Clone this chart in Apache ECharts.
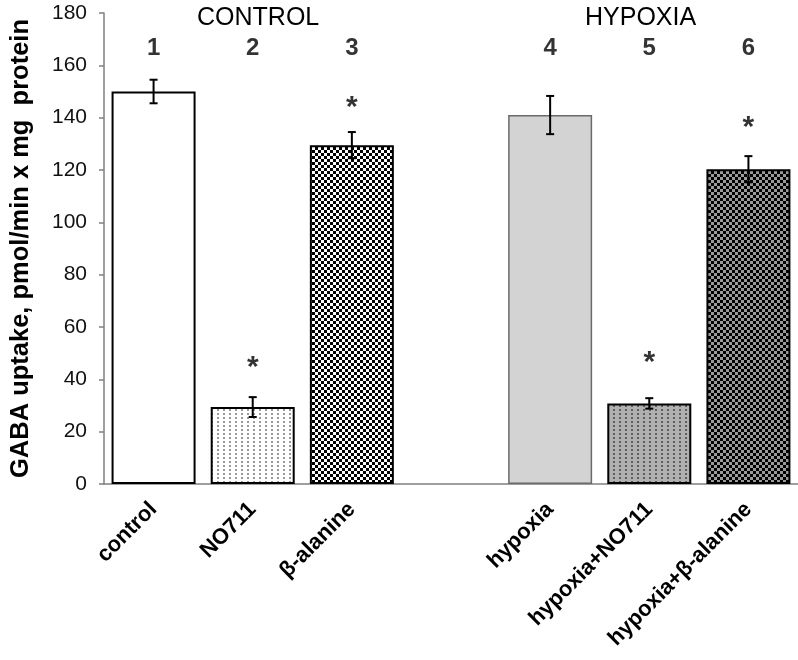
<!DOCTYPE html>
<html><head><meta charset="utf-8">
<script src="https://cdn.jsdelivr.net/npm/echarts@6/dist/echarts.min.js"></script>
<style>html,body{margin:0;padding:0;background:#fff}#c{width:798px;height:660px}</style>
</head><body><div id="c"></div>
<script>
const categories = ['control', 'NO711', 'β-alanine', '', 'hypoxia', 'hypoxia+NO711', 'hypoxia+β-alanine'];
const means = [150, 29.4, 129.5, null, 141, 30.8, 120.3];
const errors = [4.5, 3.8, 5, null, 7.3, 2, 5];
const starValues = [null, 47, 146.5, null, null, 49, 139];
const barNumbers = ['1', '2', '3', '', '4', '5', '6'];
const numberLevels = [166.5, 166.5, 166.5, null, 166.5, 166.5, 166.5];
const groupTitles = ['CONTROL', 'HYPOXIA'];
const yMin = 0, yMax = 180, yStep = 20;
const yTitle = 'GABA uptake, pmol/min x mg  protein';

const FONT = '"Liberation Sans", Arial, sans-serif';

function makePattern(w, h, draw) {
  const c = document.createElement('canvas');
  c.width = w; c.height = h;
  const ctx = c.getContext('2d');
  draw(ctx, w, h);
  return { image: c, repeat: 'repeat' };
}
const checker = (a, b) => makePattern(6, 6, (ctx) => {
  ctx.fillStyle = a; ctx.fillRect(0, 0, 6, 6);
  ctx.fillStyle = b; ctx.fillRect(0, 0, 3, 3); ctx.fillRect(3, 3, 3, 3);
});
const stipple = (bg, dot) => makePattern(6, 4, (ctx) => {
  ctx.fillStyle = bg; ctx.fillRect(0, 0, 6, 4);
  ctx.fillStyle = dot; ctx.fillRect(1, 1, 2, 2);
});

const styles = [
  { color: '#ffffff', borderColor: '#000', borderWidth: 2 },
  { color: stipple('#ffffff', '#9a9a9a'), borderColor: '#000', borderWidth: 2 },
  { color: checker('#ffffff', '#000000'), borderColor: '#000', borderWidth: 2 },
  null,
  { color: '#d3d3d3', borderColor: '#6a6a6a', borderWidth: 1.5 },
  { color: stipple('#b0b0b0', '#5e5e5e'), borderColor: '#000', borderWidth: 2 },
  { color: checker('#9a9a9a', '#000000'), borderColor: '#000', borderWidth: 2 }
];

const barData = means.map((v, i) => v == null ? null : { value: v, itemStyle: styles[i] });
const errData = means.map((v, i) => v == null ? null : [i, v - errors[i], v + errors[i]]).filter(d => d);
const starData = starValues.map((v, i) => v == null ? null : [i, v]).filter(d => d);
const numData = numberLevels.map((v, i) => v == null ? null : [i, v, barNumbers[i]]).filter(d => d);

const chart = echarts.init(document.getElementById('c'), null, { renderer: 'canvas' });
chart.setOption({
  animation: false,
  grid: { left: 100, right: 0, top: 13, bottom: 176, containLabel: false },
  xAxis: {
    type: 'category', data: categories,
    axisLine: { lineStyle: { color: '#808080', width: 1.5 } },
    axisTick: { show: false },
    axisLabel: { interval: 0, rotate: 45, margin: 22, color: '#000', fontWeight: 'bold', fontSize: 22, fontFamily: FONT }
  },
  yAxis: {
    type: 'value', min: yMin, max: yMax, interval: yStep,
    name: yTitle, nameLocation: 'middle', nameGap: 70,
    nameTextStyle: { color: '#000', fontWeight: 'bold', fontSize: 25.5, fontFamily: FONT },
    axisLine: { show: true, lineStyle: { color: '#808080', width: 1.5 } },
    axisTick: { show: true, length: 5, lineStyle: { color: '#808080', width: 1.5 } },
    splitLine: { show: false },
    axisLabel: { color: '#111', fontSize: 21, fontFamily: FONT, margin: 17 }
  },
  series: [
    { type: 'bar', data: barData, barWidth: 84, z: 2 },
    {
      type: 'custom', data: errData, z: 5,
      renderItem: (params, api) => {
        const x = api.value(0);
        const lo = api.coord([x, api.value(1)]);
        const hi = api.coord([x, api.value(2)]);
        const cw = 4;
        const st = { stroke: '#000', lineWidth: 2 };
        return { type: 'group', children: [
          { type: 'line', shape: { x1: lo[0], y1: lo[1], x2: hi[0], y2: hi[1] }, style: st },
          { type: 'line', shape: { x1: lo[0] - cw, y1: lo[1], x2: lo[0] + cw, y2: lo[1] }, style: st },
          { type: 'line', shape: { x1: hi[0] - cw, y1: hi[1], x2: hi[0] + cw, y2: hi[1] }, style: st }
        ]};
      }
    },
    {
      type: 'scatter', data: starData, symbolSize: 0, z: 6,
      label: { show: true, position: 'inside', formatter: '*', color: '#000', fontWeight: 'bold', fontSize: 30, fontFamily: FONT, offset: [0, 7] }
    },
    {
      type: 'scatter', data: numData, symbolSize: 0, z: 6,
      label: { show: true, position: 'inside', formatter: p => p.data[2], color: '#000', fontWeight: 'bold', fontSize: 24, fontFamily: FONT }
    }
  ],
  graphic: [
    { type: 'text', left: 197, top: 6, style: { text: groupTitles[0], fill: '#000', font: '25px ' + FONT } },
    { type: 'text', left: 585, top: 6, style: { text: groupTitles[1], fill: '#000', font: '25px ' + FONT } }
  ]
});
</script></body></html>
